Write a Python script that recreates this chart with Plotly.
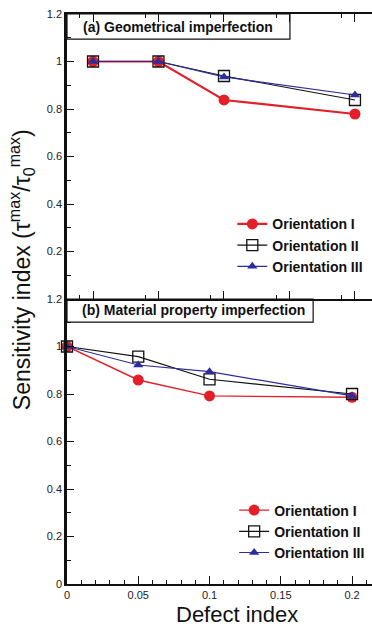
import plotly.graph_objects as go

# ---------------- data ----------------
series_names = ["Orientation I", "Orientation II", "Orientation III"]

# (a) Geometrical imperfection (panel with its own, unlabelled x scale)
geo_x = [1, 2, 3, 5]
geo_I = [1.0, 1.0, 0.838, 0.779]
geo_II = [1.0, 1.0, 0.939, 0.838]
geo_III = [1.0, 1.0, 0.935, 0.859]

# (b) Material property imperfection
mat_x = [0, 0.05, 0.1, 0.2]
mat_I = [1.0, 0.859, 0.792, 0.786]
mat_II = [1.0, 0.957, 0.862, 0.800]
mat_III = [1.0, 0.922, 0.894, 0.792]

x_tickvals = [0, 0.05, 0.1, 0.15, 0.2]
x_ticktext = ["0", "0.05", "0.1", "0.15", "0.2"]
y_tickvals_b = [0, 0.2, 0.4, 0.6, 0.8, 1.0, 1.2]
y_ticktext_b = ["0", "0.2", "0.4", "0.6", "0.8", "1", "1.2"]
y_tickvals_a = [0.2, 0.4, 0.6, 0.8, 1.0, 1.2]
y_ticktext_a = ["0.2", "0.4", "0.6", "0.8", "1", "1.2"]
geo_major_ticks = [1, 2, 3, 4, 5]
geo_minor_ticks = [0.8, 1.8, 2.8, 3.8, 4.8]

# ---------------- styles ----------------
FONT = "Liberation Sans, Arial, Helvetica, sans-serif"
RED = "#e3202a"
BLACK = "#111111"
BLUE = "#2c2c9c"
styles = [
    dict(color=RED, symbol="circle", size=11, line=dict(width=0, color=RED), lw=1.4),
    dict(color=BLACK, symbol="square-open", size=11, line=dict(width=1.3, color=BLACK), lw=1.2),
    dict(color=BLUE, symbol="triangle-up", size=9, line=dict(width=0, color=BLUE), lw=1.2),
]
line_colors = [RED, BLACK, BLUE]

fig = go.Figure()

for name, ys, st, lc in zip(series_names, [geo_I, geo_II, geo_III], styles, line_colors):
    fig.add_trace(go.Scatter(
        x=geo_x, y=ys, name=name, mode="lines+markers",
        line=dict(color=lc, width=st["lw"] + (0.8 if lc == RED else 0)),
        marker=dict(color=st["color"], symbol=st["symbol"], size=st["size"], line=st["line"]),
        xaxis="x2", yaxis="y2", legend="legend", cliponaxis=False,
    ))

for name, ys, st, lc in zip(series_names, [mat_I, mat_II, mat_III], styles, line_colors):
    fig.add_trace(go.Scatter(
        x=mat_x, y=ys, name=name, mode="lines+markers",
        line=dict(color=lc, width=st["lw"]),
        marker=dict(color=st["color"], symbol=st["symbol"], size=st["size"], line=st["line"]),
        xaxis="x", yaxis="y", legend="legend2", cliponaxis=False,
    ))

tickfont = dict(family=FONT, size=11, color="#222222")
legfont = dict(family=FONT, size=14, color="#111", weight="bold")

fig.update_layout(
    width=372, height=628,
    margin=dict(l=67, r=0, t=14, b=44, pad=0),
    paper_bgcolor="white", plot_bgcolor="white",
    font=dict(family=FONT, color="#111111"),
    xaxis=dict(
        domain=[0, 1], anchor="y", range=[0, 0.214],
        tickmode="array", tickvals=x_tickvals, ticktext=x_ticktext,
        ticks="inside", ticklen=8, tickwidth=1.2, tickcolor="#111",
        minor=dict(dtick=0.01, ticks="inside", ticklen=4, tickwidth=1, tickcolor="#111"),
        showline=True, linewidth=1.6, linecolor="#111",
        showgrid=False, zeroline=False, tickfont=tickfont,
    ),
    yaxis=dict(
        domain=[0, 0.5], anchor="x", range=[0, 1.2],
        tickmode="array", tickvals=y_tickvals_b, ticktext=y_ticktext_b,
        ticks="inside", ticklen=7, tickwidth=1.2, tickcolor="#111",
        minor=dict(dtick=0.1, ticks="inside", ticklen=4, tickwidth=1, tickcolor="#111"),
        showline=True, linewidth=2.5, linecolor="#111",
        showgrid=False, zeroline=False, tickfont=tickfont,
    ),
    xaxis2=dict(
        domain=[0, 1], anchor="y2", range=[0.603, 5.26],
        tickmode="array", tickvals=geo_major_ticks, showticklabels=False,
        ticks="inside", ticklen=8, tickwidth=1.2, tickcolor="#111",
        minor=dict(tickmode="array", tickvals=geo_minor_ticks, ticks="inside",
                   ticklen=4, tickwidth=1, tickcolor="#111"),
        showline=True, linewidth=1.6, linecolor="#111", mirror="ticks",
        showgrid=False, zeroline=False,
    ),
    yaxis2=dict(
        domain=[0.5, 1], anchor="x2", range=[0, 1.2],
        tickmode="array", tickvals=y_tickvals_a, ticktext=y_ticktext_a,
        ticks="inside", ticklen=7, tickwidth=1.2, tickcolor="#111",
        minor=dict(dtick=0.1, ticks="inside", ticklen=4, tickwidth=1, tickcolor="#111"),
        showline=True, linewidth=2.5, linecolor="#111",
        showgrid=False, zeroline=False, tickfont=tickfont,
    ),
    legend=dict(
        x=0.542, y=0.659, xanchor="left", yanchor="top",
        bgcolor="rgba(0,0,0,0)", borderwidth=0, font=legfont,
        tracegroupgap=0, itemwidth=30,
    ),
    legend2=dict(
        x=0.548, y=0.157, xanchor="left", yanchor="top",
        bgcolor="rgba(0,0,0,0)", borderwidth=0, font=legfont,
        tracegroupgap=0, itemwidth=30,
    ),
    shapes=[
        dict(type="rect", xref="paper", yref="paper", x0=0, x1=0.731, y0=0.956, y1=1.0,
             fillcolor="white", line=dict(color="#111", width=1.2), layer="below"),
        dict(type="rect", xref="paper", yref="paper", x0=0, x1=0.807, y0=0.4596, y1=0.5,
             fillcolor="white", line=dict(color="#111", width=1.2), layer="below"),
    ],
    annotations=[
        dict(text="(a) Geometrical imperfection", xref="paper", yref="paper",
             x=0.045, y=0.978, xanchor="left", yanchor="middle", showarrow=False,
             font=dict(family=FONT, size=14, color="#111", weight="bold")),
        dict(text="(b) Material property imperfection", xref="paper", yref="paper",
             x=0.042, y=0.48, xanchor="left", yanchor="middle", showarrow=False,
             font=dict(family=FONT, size=14, color="#111", weight="bold")),
        dict(text="Sensitivity index (τ<sup>max</sup>/τ<sub>0</sub><sup>max</sup>)",
             xref="paper", yref="paper", x=-0.15, y=0.551,
             xanchor="center", yanchor="middle", textangle=-90, showarrow=False,
             font=dict(family=FONT, size=23, color="#111")),
        dict(text="Defect index", xref="paper", yref="paper", x=0.557, y=-0.054,
             xanchor="center", yanchor="middle", showarrow=False,
             font=dict(family=FONT, size=22, color="#111")),
    ],
)

fig.write_html("out.html")
